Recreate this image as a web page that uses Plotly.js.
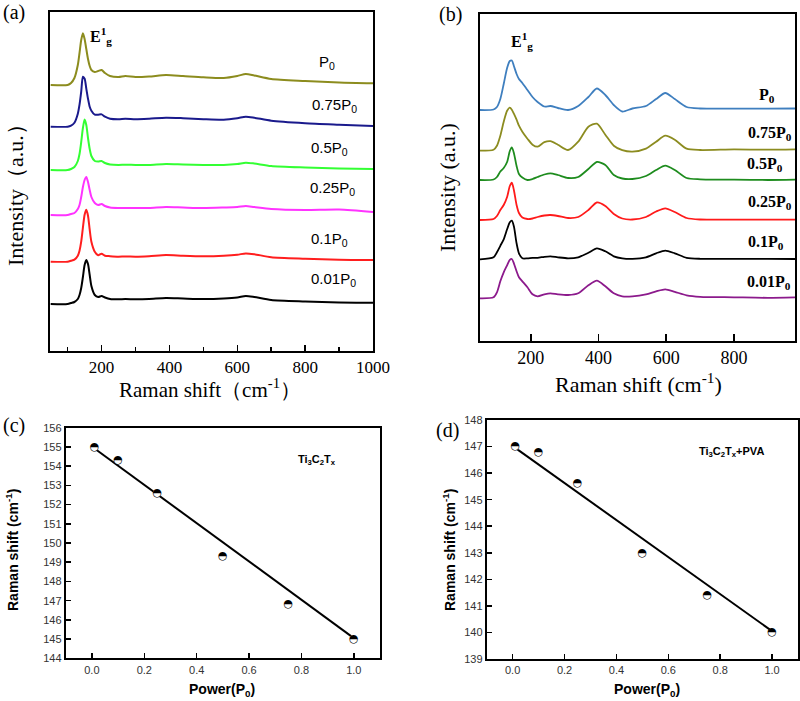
<!DOCTYPE html>
<html>
<head>
<meta charset="utf-8">
<script src="https://cdn.plot.ly/plotly-3.0.1.min.js"></script>
<style>
  html, body { margin: 0; padding: 0; background: #fff; }
  #chart { width: 800px; height: 701px; }
</style>
</head>
<body>
<div id="chart"></div>
<script>
// ---- panel (a) : Ti3C2Tx spectra ----
const shiftA = [50, 100, 110, 120, 130, 135, 140, 145, 150, 155, 160, 165, 170, 180, 190, 200, 210, 225, 250, 270, 300, 340, 390, 440, 500, 560, 600, 625, 650, 700, 800, 900, 1000];
const specA_001 = [0, 0, 1, 2, 5, 9, 16, 27, 39, 44, 40, 29, 18, 9, 7, 8, 6.5, 5, 4.7, 5, 4.7, 5, 6, 5.5, 5, 5.5, 6.5, 8, 7, 4, 2.5, 1.5, 1.3];
const specA_01  = [0, 0, 1, 2, 6, 11, 20, 34, 47, 52, 46, 32, 20, 10, 6.5, 8, 6, 5.5, 5, 5.3, 5, 5.5, 6.7, 6, 5.5, 6, 7, 8.3, 7.5, 4.5, 3, 2, 1.7];
const specA_025 = [0, 0, 1, 2, 6, 10, 18, 28, 35, 38, 33, 25, 18, 12, 10, 11, 9, 7.5, 7, 7, 7, 7, 8, 7.5, 7, 7.5, 8, 9, 8, 6, 5, 5.5, 3];
const specA_05  = [0, 0, 1, 3, 9, 16, 28, 42, 50.5, 45, 32, 21, 14, 9, 8.5, 9, 7, 5.5, 5, 5.3, 5, 5, 6, 5.5, 5, 5, 6, 7.3, 6.5, 4, 2.5, 1.5, 1];
const specA_075 = [0, 0, 1, 4, 13, 22, 35, 50, 48, 38, 28, 20, 16, 12, 12, 12.3, 10, 8, 7.5, 8, 7.5, 8, 9, 8.5, 7.5, 7, 8.5, 10, 9, 6, 3.5, 2, 0.7];
const specA_1   = [0, 0, 2, 7, 20, 32, 45, 51.7, 46, 36, 26, 19, 15, 13, 14, 15, 12, 9, 8, 9, 8, 8.5, 10, 9, 7.7, 7, 9, 11, 9.5, 6, 4, 2.5, 1.7];
const offsetA = [47, 89.3, 136, 181, 224.3, 266];
const labelsA = ["0.01P<sub>0</sub>", "0.1P<sub>0</sub>", "0.25P<sub>0</sub>", "0.5P<sub>0</sub>", "0.75P<sub>0</sub>", "P<sub>0</sub>"];

// ---- panel (b) : Ti3C2Tx+PVA spectra ----
const shiftB = [50, 90, 100, 110, 120, 130, 138, 144, 150, 158, 165, 175, 190, 205, 220, 240, 258, 280, 310, 340, 370, 395, 420, 445, 470, 500, 540, 570, 597, 625, 660, 700, 800, 900, 980];
const specB_001 = [0, 1, 6, 17, 26, 33, 38.5, 39.3, 35, 27, 21, 17, 11, 4, 2, 4, 5, 4, 3.3, 5, 13, 17.7, 12, 5, 2, 2, 4, 7, 9, 6.5, 3, 1.5, 1, 0.5, 1];
const specB_01  = [0, 2, 7, 13.5, 20, 30, 37, 38.7, 33, 16, 6, 1, 1, 1.5, 1.5, 2.5, 3, 2, 1, 2, 6.5, 11, 8, 3, 1, 0.5, 2, 6, 8.7, 6, 1.5, 0.5, 0.5, 0.5, 0.3];
const specB_025 = [0, 1, 4, 10, 15, 23, 34, 37.3, 30, 15, 7, 2.5, 1, 1.5, 3, 4.5, 5, 4, 2, 3, 10, 17.5, 14, 6, 1.5, 0.5, 3, 8.5, 11.7, 8, 2, 0.5, 0.3, 0.3, 0.3];
const specB_05  = [0, 0.5, 3, 8.5, 12, 18, 29, 32.7, 27, 14, 6, 2.5, 0, 1, 3, 5.5, 6.7, 5, 2, 3, 11, 18, 15, 5, 1.5, 1, 4, 10, 14.3, 10, 2, 0.7, 0.3, 0, 0.3];
const specB_075 = [0, 1, 5, 15, 29, 40, 43, 41, 37, 31, 25, 19, 12, 6, 4, 8.5, 9.5, 6, 0.7, 9, 24, 27, 16, 5, 0.5, -1, 2, 9, 15, 11, 2, 0.7, 1.3, 1, 1.3];
const specB_1   = [0, 0.5, 3, 11, 26, 42, 49, 49.5, 44, 36, 31, 27, 20, 13, 8, 3.5, 4, 2, 0, 4, 13, 21.5, 15, 5, -1.5, 1.5, 4, 11, 17, 11, 3, 1.5, 1.3, 1.3, 1.5];
const offsetB = [42.4, 81.4, 120.7, 160.7, 190, 230.7];
const labelsB = ["<b>0.01P<sub>0</sub></b>", "<b>0.1P<sub>0</sub></b>", "<b>0.25P<sub>0</sub></b>", "<b>0.5P<sub>0</sub></b>", "<b>0.75P<sub>0</sub></b>", "<b>P<sub>0</sub></b>"];

// ---- panels (c) and (d) : E1g position vs laser power ----
const power = [0.01, 0.1, 0.25, 0.5, 0.75, 1.0];
const peakC = [155.0, 154.3, 152.6, 149.3, 146.8, 145.0];
const peakD = [147.0, 146.8, 145.6, 143.0, 141.4, 140.0];
const fitX = [0.01, 1.0];
const fitC = [154.92, 145.05];
const fitD = [146.95, 140.05];

const serif = "Liberation Serif, Times New Roman, serif";
const sans = "Liberation Sans, Arial, sans-serif";

const colorsA = ["#000000", "#ff1e1e", "#ff33ff", "#33ff33", "#1a1a8c", "#8c8c1e"];
const colorsB = ["#8c1a8c", "#000000", "#ff1a1a", "#1e8c1e", "#8c8c20", "#3f7fbf"];
const specA = [specA_001, specA_01, specA_025, specA_05, specA_075, specA_1];
const specB = [specB_001, specB_01, specB_025, specB_05, specB_075, specB_1];

const traces = [];

specA.forEach((s, i) => {
  traces.push({
    x: shiftA, y: s.map(v => v + offsetA[i]),
    mode: "lines", type: "scatter", xaxis: "x", yaxis: "y",
    line: { color: colorsA[i], width: 2, shape: "spline", smoothing: 0.7 },
    hoverinfo: "skip"
  });
});

specB.forEach((s, i) => {
  traces.push({
    x: shiftB, y: s.map(v => v + offsetB[i]),
    mode: "lines", type: "scatter", xaxis: "x2", yaxis: "y2",
    line: { color: colorsB[i], width: 1.8, shape: "spline", smoothing: 0.7 },
    hoverinfo: "skip"
  });
});

// fit lines + half filled points
[["x3", "y3", peakC, fitC], ["x4", "y4", peakD, fitD]].forEach(([xa, ya, pts, fit]) => {
  traces.push({
    x: fitX, y: fit, mode: "lines", type: "scatter", xaxis: xa, yaxis: ya,
    line: { color: "black", width: 2 }
  });
  traces.push({
    x: power, y: pts, mode: "markers", type: "scatter", xaxis: xa, yaxis: ya,
    marker: { symbol: "circle", size: 8, color: "white", line: { width: 0 } }
  });
  traces.push({
    x: power, y: pts, mode: "text", type: "scatter", xaxis: xa, yaxis: ya,
    text: power.map(() => "\u25D3"), textposition: "middle center",
    textfont: { family: "DejaVu Sans", size: 11, color: "black" }
  });
});

const boxAxis = {
  showline: true, linecolor: "black", linewidth: 2, mirror: true,
  zeroline: false, showgrid: false
};

const annotations = [];
function note(text, x, y, font, extra) {
  annotations.push(Object.assign({
    text: text, x: x, y: y, xref: "paper", yref: "paper",
    showarrow: false, xanchor: "center", yanchor: "middle", font: font
  }, extra || {}));
}

// panel letters
note("(a)", 14 / 800, 1 - 12 / 701, { family: serif, size: 20, color: "black" });
note("(b)", 450 / 800, 1 - 15 / 701, { family: serif, size: 20, color: "black" });
note("(c)", 14 / 800, 1 - 425 / 701, { family: serif, size: 20, color: "black" });
note("(d)", 447 / 800, 1 - 430 / 701, { family: serif, size: 20, color: "black" });

// axis titles
note("Raman shift（cm<sup>-1</sup>）", 210 / 800, 1 - 388 / 701, { family: serif, size: 21, color: "black" });
note("Intensity（a.u.）", 15 / 800, 1 - 190 / 701, { family: serif, size: 22, color: "black" }, { textangle: -90 });
note("Raman shift (cm<sup>-1</sup>)", 638 / 800, 1 - 383 / 701, { family: serif, size: 22, color: "black" });
note("Intensity (a.u.)", 447 / 800, 1 - 188 / 701, { family: serif, size: 22, color: "black" }, { textangle: -90 });
note("<b>Raman shift (cm<sup>-1</sup>)</b>", 12 / 800, 1 - 550 / 701, { family: sans, size: 14, color: "black" }, { textangle: -90 });
note("<b>Power(P<sub>0</sub>)</b>", 222 / 800, 1 - 690 / 701, { family: sans, size: 14, color: "black" });
note("<b>Raman shift (cm<sup>-1</sup>)</b>", 449 / 800, 1 - 550 / 701, { family: sans, size: 14, color: "black" }, { textangle: -90 });
note("<b>Power(P<sub>0</sub>)</b>", 647 / 800, 1 - 690 / 701, { family: sans, size: 14, color: "black" });

// E1g markers
note("<b>E<sup>1</sup><sub>g</sub></b>", 101 / 800, 1 - 36 / 701, { family: serif, size: 16, color: "black" });
note("<b>E<sup>1</sup><sub>g</sub></b>", 522 / 800, 1 - 41 / 701, { family: serif, size: 16, color: "black" });

// series labels
const labelPosA = [[333, 279], [329, 239], [332, 189], [329, 148], [334, 105], [327, 62]];
labelsA.forEach((t, i) => note(t, labelPosA[i][0] / 800, 1 - labelPosA[i][1] / 701, { family: sans, size: 15, color: "black" }));
const labelPosB = [[769, 282], [766, 243], [770, 203], [765, 165], [770, 133], [767, 96]];
labelsB.forEach((t, i) => note(t, labelPosB[i][0] / 800, 1 - labelPosB[i][1] / 701, { family: serif, size: 16, color: "black" }));

// sample labels in (c) and (d)
annotations.push({ text: "<b>Ti<sub>3</sub>C<sub>2</sub>T<sub>x</sub></b>", x: 0.86, y: 154.3, xref: "x3", yref: "y3",
  showarrow: false, font: { family: sans, size: 11, color: "black" } });
annotations.push({ text: "<b>Ti<sub>3</sub>C<sub>2</sub>T<sub>x</sub>+PVA</b>", x: 0.843, y: 146.8, xref: "x4", yref: "y4",
  showarrow: false, font: { family: sans, size: 11, color: "black" } });

const smallTick = { family: sans, size: 11, color: "#333" };

const layout = {
  width: 800, height: 701,
  margin: { l: 0, r: 0, t: 0, b: 0 },
  paper_bgcolor: "white", plot_bgcolor: "white",
  showlegend: false,
  xaxis: Object.assign({}, boxAxis, {
    domain: [50 / 800, 373 / 800], range: [48, 1000], anchor: "y",
    tick0: 0, dtick: 200, ticks: "inside", ticklen: 6, tickwidth: 1.5, tickcolor: "black",
    minor: { tick0: 0, dtick: 100, ticks: "inside", ticklen: 4, tickwidth: 1.5, tickcolor: "black" },
    tickfont: { family: serif, size: 17, color: "black" }, ticklabelstandoff: 0
  }),
  yaxis: Object.assign({}, boxAxis, {
    domain: [1 - 351 / 701, 1 - 12 / 701], range: [0, 339], anchor: "x",
    showticklabels: false, ticks: ""
  }),
  xaxis2: Object.assign({}, boxAxis, {
    domain: [480 / 800, 795 / 800], range: [50, 980], anchor: "y2", linewidth: 1.8,
    tick0: 0, dtick: 200, ticks: "inside", ticklen: 7, tickwidth: 1.8, tickcolor: "black",
    tickfont: { family: serif, size: 18, color: "black" }
  }),
  yaxis2: Object.assign({}, boxAxis, {
    domain: [1 - 340.7 / 701, 1 - 14 / 701], range: [0, 326.7], anchor: "x2", linewidth: 1.8,
    showticklabels: false, ticks: ""
  }),
  xaxis3: Object.assign({}, boxAxis, {
    domain: [65.7 / 800, 380 / 800], range: [-0.1, 1.1], anchor: "y3",
    tick0: 0, dtick: 0.2, tickformat: ".1f", ticks: "inside", ticklen: 5, tickwidth: 1.5, tickcolor: "black",
    tickfont: smallTick
  }),
  yaxis3: Object.assign({}, boxAxis, {
    domain: [1 - 658.3 / 701, 1 - 427.7 / 701], range: [144, 156], anchor: "x3",
    dtick: 1, ticks: "inside", ticklen: 5, tickwidth: 1.5, tickcolor: "black",
    tickfont: smallTick
  }),
  xaxis4: Object.assign({}, boxAxis, {
    domain: [486.7 / 800, 798 / 800], range: [-0.1, 1.1], anchor: "y4",
    tick0: 0, dtick: 0.2, tickformat: ".1f", ticks: "inside", ticklen: 5, tickwidth: 1.5, tickcolor: "black",
    tickfont: smallTick
  }),
  yaxis4: Object.assign({}, boxAxis, {
    domain: [1 - 659 / 701, 1 - 420 / 701], range: [139, 148], anchor: "x4",
    dtick: 1, ticks: "inside", ticklen: 5, tickwidth: 1.5, tickcolor: "black",
    tickfont: smallTick
  }),
  annotations: annotations
};

Plotly.newPlot("chart", traces, layout, { staticPlot: true });
</script>
</body>
</html>
